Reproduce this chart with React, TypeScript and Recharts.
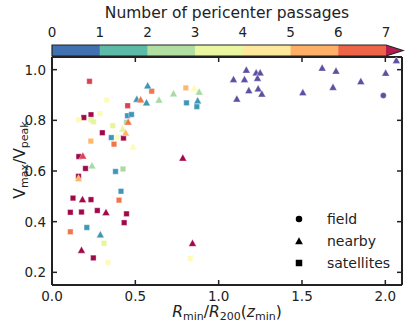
import React from 'react';
import { ScatterChart, Scatter, XAxis, YAxis, Legend } from 'recharts';

const FONT = '"DejaVu Sans", sans-serif';
const INK = '#222';

// satellites (squares)
const satX = [0.225, 0.329, 0.191, 0.234, 0.159, 0.287, 0.234, 0.249, 0.302, 0.365, 0.356, 0.391, 0.429, 0.372, 0.233, 0.454, 0.598, 0.453, 0.477, 0.447, 0.803, 0.807, 0.869, 0.161, 0.201, 0.381, 0.426, 0.159, 0.414, 0.402, 0.126, 0.234, 0.110, 0.177, 0.272, 0.447, 0.433, 0.110, 0.209, 0.312, 0.248, 0.335, 0.829];
const satY = [0.954, 0.880, 0.811, 0.822, 0.802, 0.826, 0.802, 0.794, 0.751, 0.779, 0.732, 0.732, 0.730, 0.706, 0.718, 0.858, 0.915, 0.818, 0.823, 0.792, 0.928, 0.869, 0.854, 0.657, 0.610, 0.598, 0.608, 0.579, 0.520, 0.485, 0.493, 0.487, 0.437, 0.438, 0.444, 0.431, 0.396, 0.360, 0.377, 0.315, 0.257, 0.239, 0.254];
const satN = [7, 4, 8, 8, 4, 4, 3, 3, 8, 3, 1, 4, 8, 6, 5, 7, 6, 1, 1, 2, 5, 1, 1, 8, 8, 1, 2, 8, 1, 6, 8, 8, 8, 8, 8, 8, 8, 6, 1, 3, 8, 4, 4];

// nearby (triangles)
const nearX = [0.185, 0.240, 0.159, 0.183, 0.324, 0.290, 0.177, 0.424, 0.442, 0.486, 0.457, 0.574, 0.509, 0.532, 0.567, 0.642, 0.729, 0.854, 0.883, 0.874, 0.785, 0.843, 1.166, 1.225, 1.249, 1.089, 1.155, 1.233, 1.181, 1.237, 1.259, 1.109, 1.621, 1.704, 2.002, 2.066, 1.853, 1.686, 1.505];
const nearY = [0.660, 0.621, 0.571, 0.488, 0.437, 0.349, 0.288, 0.766, 0.751, 0.696, 0.794, 0.937, 0.884, 0.882, 0.870, 0.881, 0.906, 0.927, 0.912, 0.878, 0.652, 0.315, 0.999, 0.988, 0.988, 0.962, 0.962, 0.967, 0.918, 0.925, 0.905, 0.885, 1.007, 0.995, 0.987, 1.037, 0.954, 0.931, 0.910];
const nearN = [7, 2, 5, 8, 8, 1, 8, 3, 5, 4, 6, 1, 1, 6, 1, 2, 2, 4, 2, 1, 8, 8, 0, 0, 0, 0, 0, 0, 0, 0, 0, 0, 0, 0, 0, 0, 0, 0, 0];

// field (circles)
const fieldX = [1.988];
const fieldY = [0.898];
const fieldN = [0];

const xTicks = [0, 0.5, 1.0, 1.5, 2.0];
const yTicks = [0.2, 0.4, 0.6, 0.8, 1.0];
const cbarTicks = [0, 1, 2, 3, 4, 5, 6, 7];
const groupNames = ['field', 'nearby', 'satellites'];

// colour per passage count, 8 = more than 7
const passageColors = ['#5e4fa2', '#3f97b7', '#a6dba4', '#e6f598', '#fefbb9', '#fdb86a', '#f47348', '#d8434f', '#a0084a'];
const cbarColors = ['#4171b0', '#5cbba6', '#b1dfa2', '#ebf7a0', '#fee89b', '#fdb066', '#ed6546'];
const cbarOver = '#b51c4d';

const build = (xs: number[], ys: number[], ns: number[]) => xs.map((x, i) => ({ x, y: ys[i], n: ns[i] }));
const satData = build(satX, satY, satN);
const nearData = build(nearX, nearY, nearN);
const fieldData = build(fieldX, fieldY, fieldN);

const markerPath = (kind: string, cx: number, cy: number, s: number) => {
  if (kind === 'square') return `M${cx - s / 2},${cy - s / 2}h${s}v${s}h${-s}Z`;
  if (kind === 'triangle') return `M${cx},${cy - s * 0.55}L${cx + s * 0.55},${cy + s * 0.45}L${cx - s * 0.55},${cy + s * 0.45}Z`;
  const r = s / 2;
  return `M${cx - r},${cy}a${r},${r} 0 1,0 ${2 * r},0a${r},${r} 0 1,0 ${-2 * r},0`;
};

const marker = (kind: string, size: number) => (props: any) => {
  const { cx, cy, payload } = props;
  return (
    <path d={markerPath(kind, cx, cy, size)} fill={passageColors[payload.n]} stroke="#fff" strokeOpacity={0.6} strokeWidth={0.6} />
  );
};

const tickFont = { fontFamily: FONT, fontSize: 13.5, fill: INK };

const BottomTick = (props: any) => {
  const { x, y, payload } = props;
  return (
    <g>
      <line x1={x} y1={y} x2={x} y2={y - 5} stroke={INK} strokeWidth={1.5} />
      <text x={x} y={y + 16} textAnchor="middle" {...tickFont}>{payload.value.toFixed(1)}</text>
    </g>
  );
};
const LeftTick = (props: any) => {
  const { x, y, payload } = props;
  return (
    <g>
      <line x1={x} y1={y} x2={x + 5} y2={y} stroke={INK} strokeWidth={1.5} />
      <text x={x - 6} y={y + 5} textAnchor="end" {...tickFont}>{payload.value.toFixed(1)}</text>
    </g>
  );
};
const TopTick = (props: any) => {
  const { x, y } = props;
  return <line x1={x} y1={y} x2={x} y2={y + 5} stroke={INK} strokeWidth={1.5} />;
};
const RightTick = (props: any) => {
  const { x, y } = props;
  return <line x1={x} y1={y} x2={x - 5} y2={y} stroke={INK} strokeWidth={1.5} />;
};

const renderLegend = () => (
  <svg width={110} height={72} style={{ display: 'block' }}>
    {groupNames.map((name, i) => {
      const kind = i === 0 ? 'circle' : i === 1 ? 'triangle' : 'square';
      const cy = 10 + i * 22;
      return (
        <g key={name}>
          <path d={markerPath(kind, 8, cy, kind === 'triangle' ? 7 : 6.5)} fill="#000" />
          <text x={36} y={cy + 5} fontFamily={FONT} fontSize={14} fill={INK}>{name}</text>
        </g>
      );
    })}
  </svg>
);

const axisLine = { stroke: INK, strokeWidth: 2 };

// colour bar geometry
const cbX0 = 52;
const cbX1 = 386;
const cbTop = 45;
const cbH = 11;
const cbStep = (cbX1 - cbX0) / (cbarTicks.length - 1);

const sub = { fontSize: 11, dy: 3 } as const;

const Overlay = () => (
  <svg width={407} height={328} style={{ position: 'absolute', left: 0, top: 0, pointerEvents: 'none' }}>
    <text x={227} y={18} textAnchor="middle" fontFamily={FONT} fontSize={15.5} fill={INK}>Number of pericenter passages</text>
    {cbarColors.map((c, i) => (
      <rect key={i} x={cbX0 + i * cbStep} y={cbTop} width={cbStep + 0.5} height={cbH} fill={c} />
    ))}
    <polygon points={`${cbX1},${cbTop} ${cbX1 + 17},${cbTop + cbH / 2} ${cbX1},${cbTop + cbH}`} fill={cbarOver} />
    <polygon
      points={`${cbX0},${cbTop} ${cbX1},${cbTop} ${cbX1 + 17},${cbTop + cbH / 2} ${cbX1},${cbTop + cbH} ${cbX0},${cbTop + cbH}`}
      fill="none" stroke={INK} strokeWidth={1.2}
    />
    {cbarTicks.map((t, i) => (
      <text key={t} x={cbX0 + i * cbStep} y={37} textAnchor="middle" {...tickFont}>{t}</text>
    ))}
    <text x={227} y={317} textAnchor="middle" fontFamily={FONT} fontSize={15.5} fill={INK}>
      <tspan fontStyle="italic">R</tspan>
      <tspan {...sub}>min</tspan>
      <tspan dy={-3}>/</tspan>
      <tspan fontStyle="italic">R</tspan>
      <tspan {...sub}>200</tspan>
      <tspan dy={-3}>(</tspan>
      <tspan fontStyle="italic">z</tspan>
      <tspan {...sub}>min</tspan>
      <tspan dy={-3}>)</tspan>
    </text>
    <text x={25} y={160} transform="rotate(-90, 25, 160)" textAnchor="middle" fontFamily={FONT} fontSize={15.5} fill={INK}>
      <tspan>V</tspan>
      <tspan {...sub}>max</tspan>
      <tspan dy={-3}>/V</tspan>
      <tspan {...sub}>peak</tspan>
    </text>
  </svg>
);

export default function App() {
  return (
    <div style={{ position: 'absolute', left: 0, top: 0, width: 407, height: 328, background: '#fff' }}>
      <ScatterChart width={407} height={328} margin={{ top: 56, right: 4, bottom: 42, left: 51 }}>
        <XAxis xAxisId="b" type="number" dataKey="x" domain={[0, 2.1]} ticks={xTicks} allowDataOverflow
          height={1} tickSize={0} tickMargin={0} tickLine={false} axisLine={axisLine} tick={<BottomTick />} interval={0} />
        <XAxis xAxisId="t" orientation="top" type="number" dataKey="x" domain={[0, 2.1]} ticks={xTicks} allowDataOverflow
          height={1} tickSize={0} tickMargin={0} tickLine={false} axisLine={axisLine} tick={<TopTick />} interval={0} />
        <YAxis yAxisId="l" type="number" dataKey="y" domain={[0.15, 1.05]} ticks={yTicks} allowDataOverflow
          width={1} tickSize={0} tickMargin={0} tickLine={false} axisLine={axisLine} tick={<LeftTick />} interval={0} />
        <YAxis yAxisId="r" orientation="right" type="number" dataKey="y" domain={[0.15, 1.05]} ticks={yTicks} allowDataOverflow
          width={1} tickSize={0} tickMargin={0} tickLine={false} axisLine={axisLine} tick={<RightTick />} interval={0} />
        <Scatter name="satellites" data={satData} xAxisId="b" yAxisId="l" shape={marker('square', 5.5)} isAnimationActive={false} />
        <Scatter name="nearby" data={nearData} xAxisId="b" yAxisId="l" shape={marker('triangle', 7)} isAnimationActive={false} />
        <Scatter name="field" data={fieldData} xAxisId="b" yAxisId="l" shape={marker('circle', 6)} isAnimationActive={false} />
        <Legend layout="vertical" align="center" verticalAlign="middle" content={renderLegend}
          wrapperStyle={{ left: 291, top: 209, width: 110, height: 72 }} />
      </ScatterChart>
      <Overlay />
    </div>
  );
}
